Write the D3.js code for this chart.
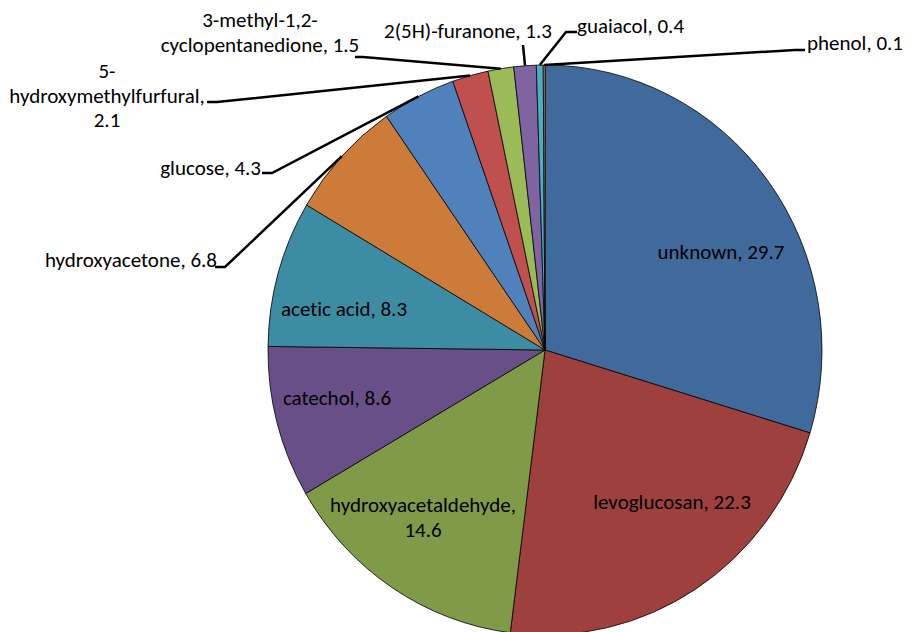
<!DOCTYPE html>
<html>
<head>
<meta charset="utf-8">
<script src="https://cdn.jsdelivr.net/npm/d3@7/dist/d3.min.js"></script>
<style>
  html, body { margin: 0; padding: 0; background: #fff; }
  svg { display: block; }
  text { font-family: Carlito, Lato, "Noto Sans", sans-serif; font-size: 21px; fill: #000;
         font-variant-ligatures: none; }
</style>
</head>
<body>
<svg id="chart" width="913" height="632"></svg>
<script>
// Composition of the products (wt%), clockwise from 12 o'clock
const categories = [
  "unknown", "levoglucosan", "hydroxyacetaldehyde", "catechol", "acetic acid",
  "hydroxyacetone", "glucose", "5-hydroxymethylfurfural",
  "3-methyl-1,2-cyclopentanedione", "2(5H)-furanone", "guaiacol", "phenol"
];
const values = [29.7, 22.3, 14.6, 8.6, 8.3, 6.8, 4.3, 2.1, 1.5, 1.3, 0.4, 0.1];
const colors = [
  "#416a9c", "#9e413e", "#7f9b48", "#694f87", "#3c8da3", "#cc7b39",
  "#4f81bd", "#c0504d", "#9bbb59", "#8064a2", "#4bacc6", "#f79646"
];

// Label text lines (category name + value) and their placement
const labelLines = [
  ["unknown, 29.7"],
  ["levoglucosan, 22.3"],
  ["hydroxyacetaldehyde,", "14.6"],
  ["catechol, 8.6"],
  ["acetic acid, 8.3"],
  ["hydroxyacetone, 6.8"],
  ["glucose, 4.3"],
  ["5-", "hydroxymethylfurfural,", "2.1"],
  ["3-methyl-1,2-", "cyclopentanedione, 1.5"],
  ["2(5H)-furanone, 1.3"],
  ["guaiacol, 0.4"],
  ["phenol, 0.1"]
];
const labelLayout = [
  { x: 721, y: 259, anchor: "middle" },
  { x: 672, y: 509, anchor: "middle" },
  { x: 423, y: 512, anchor: "middle" },
  { x: 337, y: 405, anchor: "middle" },
  { x: 344, y: 316, anchor: "middle" },
  { x: 217, y: 267, anchor: "end", leader: [[215, 267], [225, 267]] },
  { x: 261, y: 175, anchor: "end", leader: [[262, 173], [272, 173]] },
  { x: 107, y: 78, anchor: "middle", leader: [[207, 102], [217, 102]] },
  { x: 260, y: 27, anchor: "middle", leader: [[355, 57], [363, 57]] },
  { x: 468, y: 38, anchor: "middle", leader: [[523, 45]] },
  { x: 577, y: 33, anchor: "start", leader: [[577, 32], [566, 32]] },
  { x: 807, y: 50, anchor: "start", leader: [[805, 50], [795, 50]] }
];
const lineGap = 24.5;

const cx = 545, cy = 350, rx = 277, ry = 285;

const svg = d3.select("#chart");
const data = categories.map((c, i) => ({ name: c, value: values[i], i }));

const pie = d3.pie().value(d => d.value).sort(null);
const arcs = pie(data);
const arc = d3.arc().innerRadius(0).outerRadius(rx);

// Slices (slightly taller than wide)
const g = svg.append("g")
  .attr("transform", `translate(${cx},${cy}) scale(1,${ry / rx})`);
g.selectAll("path")
  .data(arcs)
  .join("path")
  .attr("d", arc)
  .attr("fill", d => colors[d.data.i])
  .attr("stroke", "#000")
  .attr("stroke-width", 0.8)
  .attr("vector-effect", "non-scaling-stroke");

// Point on the rim at the middle of a slice
function rimPoint(a) {
  const ang = (a.startAngle + a.endAngle) / 2;
  return [cx + rx * Math.sin(ang), cy - ry * Math.cos(ang)];
}

// Leader lines for the outside labels
const line = d3.line();
arcs.forEach(a => {
  const lay = labelLayout[a.data.i];
  if (!lay.leader) return;
  const pts = lay.leader.concat([rimPoint(a)]);
  svg.append("path")
    .attr("d", line(pts))
    .attr("fill", "none")
    .attr("stroke", "#000")
    .attr("stroke-width", 2.5);
});

// Data labels
arcs.forEach(a => {
  const lay = labelLayout[a.data.i];
  const t = svg.append("text")
    .attr("text-anchor", lay.anchor)
    .attr("x", lay.x)
    .attr("y", lay.y);
  labelLines[a.data.i].forEach((s, k) => {
    t.append("tspan")
      .attr("x", lay.x)
      .attr("y", lay.y + k * lineGap)
      .text(s);
  });
});
</script>
</body>
</html>
